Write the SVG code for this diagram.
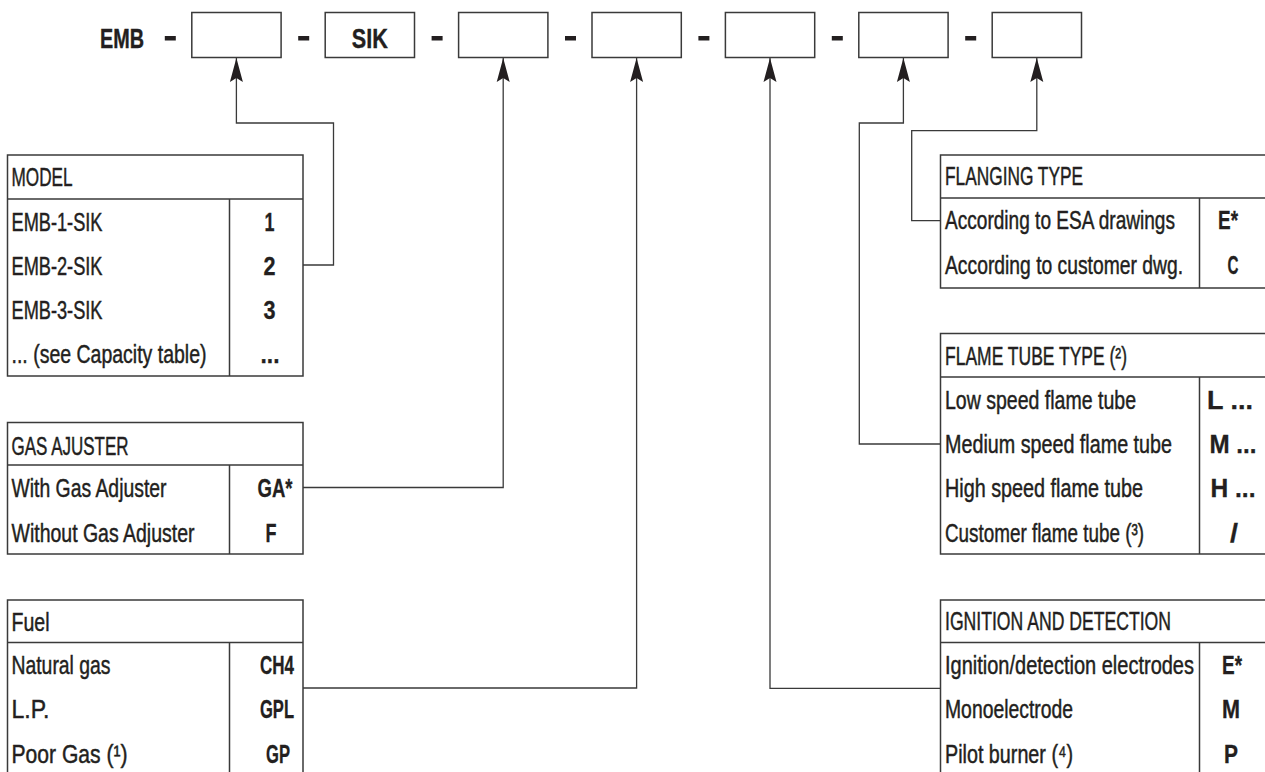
<svg xmlns="http://www.w3.org/2000/svg" width="1265" height="772" viewBox="0 0 1265 772">
<style>
.t{font-family:"Liberation Sans",Arial,sans-serif;font-size:25px;fill:#231f20;stroke:#231f20;stroke-width:0.45}
.b{font-weight:bold;text-anchor:middle;stroke-width:0.3}
.h{font-family:"Liberation Sans",Arial,sans-serif;font-size:28px;font-weight:bold;fill:#231f20;stroke:#231f20;stroke-width:0.4;text-anchor:middle}
.tbl{fill:none;stroke:#3a3a3a;stroke-width:1.5}
.box{fill:#fff;stroke:#3a3a3a;stroke-width:1.5}
.dash{fill:#231f20}
.c{fill:none;stroke:#3a3a3a;stroke-width:1.3;marker-end:url(#ah)}
</style>
<defs>
<marker id="ah" markerUnits="userSpaceOnUse" markerWidth="30" markerHeight="16" viewBox="-25 -8 26 16" refX="0" refY="0" orient="auto">
<path d="M0 0L-24 -6.5L-20 0L-24 6.5Z" fill="#231f20"/>
</marker>
</defs>
<rect width="1265" height="772" fill="#fff"/>

<g id="code-row">
<text class="h" x="122" y="48" textLength="44" lengthAdjust="spacingAndGlyphs">EMB</text>
<rect class="dash" x="164.8" y="36" width="11" height="4.5"/>
<rect class="box" x="191.8" y="12.5" width="89.3" height="45"/>
<rect class="dash" x="298.2" y="36" width="11" height="4.5"/>
<rect class="box" x="325.2" y="12.5" width="89.3" height="45"/>
<text class="h" x="369.8" y="48" textLength="36" lengthAdjust="spacingAndGlyphs">SIK</text>
<rect class="dash" x="431.6" y="36" width="11" height="4.5"/>
<rect class="box" x="458.6" y="12.5" width="89.3" height="45"/>
<rect class="dash" x="565" y="36" width="11" height="4.5"/>
<rect class="box" x="592" y="12.5" width="89.3" height="45"/>
<rect class="dash" x="698.4" y="36" width="11" height="4.5"/>
<rect class="box" x="725.4" y="12.5" width="89.3" height="45"/>
<rect class="dash" x="831.8" y="36" width="11" height="4.5"/>
<rect class="box" x="858.8" y="12.5" width="89.3" height="45"/>
<rect class="dash" x="965.2" y="36" width="11" height="4.5"/>
<rect class="box" x="992.2" y="12.5" width="89.3" height="45"/>
</g>

<g id="connectors">
<path class="c" d="M303 265H333.5V123H236.4V58"/>
<path class="c" d="M303 487.5H503.2V58"/>
<path class="c" d="M303 688H636.6V58"/>
<path class="c" d="M940.5 688.3H770V58"/>
<path class="c" d="M940.5 444H859.3V123H903.4V58"/>
<path class="c" d="M940.5 220.7H911.7V130.7H1036.8V58"/>
</g>

<g id="model">
<rect class="tbl" x="7.5" y="155" width="295.5" height="221"/>
<path class="tbl" d="M7.5 199H303M229.5 199V376"/>
<text class="t" x="11.5" y="186" textLength="61" lengthAdjust="spacingAndGlyphs">MODEL</text>
<text class="t" x="11.5" y="230.5" textLength="91" lengthAdjust="spacingAndGlyphs">EMB-1-SIK</text>
<text class="t" x="11.5" y="274.5" textLength="91" lengthAdjust="spacingAndGlyphs">EMB-2-SIK</text>
<text class="t" x="11.5" y="318.5" textLength="91" lengthAdjust="spacingAndGlyphs">EMB-3-SIK</text>
<text class="t" x="11.5" y="362.5" textLength="195" lengthAdjust="spacingAndGlyphs">... (see Capacity table)</text>
<text class="t b" x="269.5" y="230.5" textLength="10" lengthAdjust="spacingAndGlyphs">1</text>
<text class="t b" x="269.5" y="274.5" textLength="12" lengthAdjust="spacingAndGlyphs">2</text>
<text class="t b" x="269.5" y="318.5" textLength="12" lengthAdjust="spacingAndGlyphs">3</text>
<text class="t b" x="270" y="362.5" textLength="19" lengthAdjust="spacingAndGlyphs">...</text>
</g>

<g id="gas-adjuster">
<rect class="tbl" x="7.5" y="422.5" width="295.5" height="131.5"/>
<path class="tbl" d="M7.5 465H303M229.5 465V554"/>
<text class="t" x="11.5" y="455" textLength="117" lengthAdjust="spacingAndGlyphs">GAS AJUSTER</text>
<text class="t" x="11.5" y="497" textLength="155" lengthAdjust="spacingAndGlyphs">With Gas Adjuster</text>
<text class="t" x="11.5" y="541.5" textLength="183" lengthAdjust="spacingAndGlyphs">Without Gas Adjuster</text>
<text class="t b" x="275" y="497" textLength="35" lengthAdjust="spacingAndGlyphs">GA*</text>
<text class="t b" x="271" y="541.5" textLength="11" lengthAdjust="spacingAndGlyphs">F</text>
</g>

<g id="fuel">
<path class="tbl" d="M7.5 773V600H303V773M7.5 642.5H303M229.5 642.5V773"/>
<text class="t" x="11.5" y="631" textLength="38" lengthAdjust="spacingAndGlyphs">Fuel</text>
<text class="t" x="11.5" y="673.5" textLength="99" lengthAdjust="spacingAndGlyphs">Natural gas</text>
<text class="t" x="11.5" y="718" textLength="38" lengthAdjust="spacingAndGlyphs">L.P.</text>
<text class="t" x="11.5" y="762.5" textLength="116" lengthAdjust="spacingAndGlyphs">Poor Gas (¹)</text>
<text class="t b" x="277" y="673.5" textLength="34" lengthAdjust="spacingAndGlyphs">CH4</text>
<text class="t b" x="277" y="718" textLength="34" lengthAdjust="spacingAndGlyphs">GPL</text>
<text class="t b" x="278" y="762.5" textLength="24" lengthAdjust="spacingAndGlyphs">GP</text>
</g>

<g id="flanging-type">
<path class="tbl" d="M1266 155H940.5V288H1266M940.5 198H1266M1199.5 198V288"/>
<text class="t" x="945" y="185" textLength="138" lengthAdjust="spacingAndGlyphs">FLANGING TYPE</text>
<text class="t" x="945" y="228.5" textLength="230" lengthAdjust="spacingAndGlyphs">According to ESA drawings</text>
<text class="t" x="945" y="273.5" textLength="238" lengthAdjust="spacingAndGlyphs">According to customer dwg.</text>
<text class="t b" x="1228" y="228.5" textLength="20" lengthAdjust="spacingAndGlyphs">E*</text>
<text class="t b" x="1233" y="273.5" textLength="11" lengthAdjust="spacingAndGlyphs">C</text>
</g>

<g id="flame-tube-type">
<path class="tbl" d="M1266 333.5H940.5V554H1266M940.5 377H1266M1199.5 377V554"/>
<text class="t" x="945" y="365" textLength="182" lengthAdjust="spacingAndGlyphs">FLAME TUBE TYPE (²)</text>
<text class="t" x="945" y="408.5" textLength="191" lengthAdjust="spacingAndGlyphs">Low speed flame tube</text>
<text class="t" x="945" y="452.5" textLength="227" lengthAdjust="spacingAndGlyphs">Medium speed flame tube</text>
<text class="t" x="945" y="497" textLength="198" lengthAdjust="spacingAndGlyphs">High speed flame tube</text>
<text class="t" x="945" y="541.5" textLength="199" lengthAdjust="spacingAndGlyphs">Customer flame tube (³)</text>
<text class="t b" x="1230" y="408.5" textLength="46" lengthAdjust="spacingAndGlyphs">L ...</text>
<text class="t b" x="1233" y="452.5" textLength="47" lengthAdjust="spacingAndGlyphs">M ...</text>
<text class="t b" x="1233" y="497" textLength="45" lengthAdjust="spacingAndGlyphs">H ...</text>
<text class="t b" x="1234" y="541.5" textLength="8" lengthAdjust="spacingAndGlyphs">/</text>
</g>

<g id="ignition-detection">
<path class="tbl" d="M1266 600H940.5V773M940.5 642.5H1266M1199.5 642.5V773"/>
<text class="t" x="945" y="630" textLength="226" lengthAdjust="spacingAndGlyphs">IGNITION AND DETECTION</text>
<text class="t" x="945" y="673.5" textLength="249" lengthAdjust="spacingAndGlyphs">Ignition/detection electrodes</text>
<text class="t" x="945" y="718" textLength="128" lengthAdjust="spacingAndGlyphs">Monoelectrode</text>
<text class="t" x="945" y="762.5" textLength="128" lengthAdjust="spacingAndGlyphs">Pilot burner (⁴)</text>
<text class="t b" x="1232" y="673.5" textLength="20" lengthAdjust="spacingAndGlyphs">E*</text>
<text class="t b" x="1231" y="718" textLength="18" lengthAdjust="spacingAndGlyphs">M</text>
<text class="t b" x="1231" y="762.5" textLength="14" lengthAdjust="spacingAndGlyphs">P</text>
</g>
</svg>
